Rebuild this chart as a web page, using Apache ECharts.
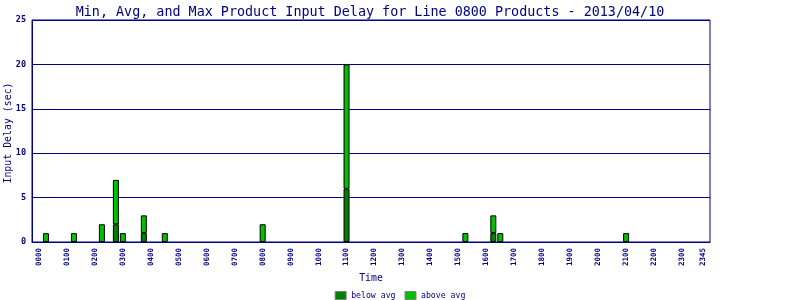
<!DOCTYPE html>
<html>
<head>
<meta charset="utf-8">
<script src="https://cdn.jsdelivr.net/npm/echarts@6/dist/echarts.min.js"></script>
<style>html,body{margin:0;padding:0;background:#fff;}#c{width:800px;height:300px;}</style>
</head>
<body>
<div id="c"></div>
<script>
// Time slots (15-minute bins) that have data
var barTimes = ['0015','0115','0215','0245','0300','0345','0430','0800','1100','1515','1615','1630','2100'];
// Portion of each bar below the average (sec)
var belowAvg = ['-','-','-',2,'-',1,'-','-',6,'-',1,'-','-'];
// Portion of each bar above the average (sec), stacked on top
var aboveAvg = [1,1,2,5,1,2,1,2,14,1,2,1,1];
// X tick labels
var tickLabels = ['0000','0100','0200','0300','0400','0500','0600','0700','0800','0900','1000','1100',
                  '1200','1300','1400','1500','1600','1700','1800','1900','2000','2100','2200','2300','2345'];
var yTicks = [0,5,10,15,20,25];

function toMin(t){ return parseInt(t.slice(0,2),10)*60 + parseInt(t.slice(2),10); }
function fmt(m){ var h=Math.floor(m/60), mm=m%60; return (h<10?'0':'')+h+(mm<10?'0':'')+mm; }

var NAVY = '#000080';
var FONT = 'DejaVu Sans Mono';

var chart = echarts.init(document.getElementById('c'), null, {renderer:'canvas'});
chart.setOption({
  animation: false,
  backgroundColor: '#ffffff',
  title: {
    text: 'Min, Avg, and Max Product Input Delay for Line 0800 Products - 2013/04/10',
    left: 365, top: 1, textAlign: 'center',
    textStyle: {color: NAVY, fontFamily: FONT, fontSize: 13.4, fontWeight: 'normal'}
  },
  legend: {
    left: 'center', top: 291, padding: 0,
    itemWidth: 11, itemHeight: 8, itemGap: 9,
    icon: 'rect',
    itemStyle: {borderColor: '#808080', borderWidth: 1},
    textStyle: {color: NAVY, fontFamily: FONT, fontSize: 8.2},
    data: ['below avg', 'above avg']
  },
  grid: {
    left: 32, right: 90, top: 20, bottom: 58,
    containLabel: false, outerBoundsMode: 'none',
    show: true, borderColor: NAVY, borderWidth: 1, backgroundColor: 'transparent'
  },
  xAxis: {
    type: 'value', min: -15, max: 1440,
    name: 'Time', nameLocation: 'middle', nameGap: 31, nameMoveOverlap: false,
    nameTextStyle: {color: NAVY, fontFamily: FONT, fontSize: 9.8},
    axisLine: {show: true, onZero: false, lineStyle: {color: NAVY, width: 1}},
    axisTick: {show: false},
    splitLine: {show: false},
    axisLabel: {
      customValues: tickLabels.map(toMin),
      rotate: 90, margin: 6,
      color: NAVY, fontFamily: FONT, fontSize: 7.5, fontWeight: 'bold',
      formatter: function(v){ return fmt(v); }
    }
  },
  yAxis: {
    type: 'value', min: yTicks[0], max: yTicks[yTicks.length-1], interval: 5,
    name: 'Input Delay (sec)', nameLocation: 'middle', nameGap: 19, nameMoveOverlap: false,
    nameTextStyle: {color: NAVY, fontFamily: FONT, fontSize: 9.9, padding: [0, 4, 0, 0]},
    axisLine: {show: true, onZero: false, lineStyle: {color: NAVY, width: 1}},
    axisTick: {show: false},
    splitLine: {show: true, lineStyle: {color: NAVY, width: 1}},
    axisLabel: {color: NAVY, fontFamily: FONT, fontSize: 8.5, fontWeight: 'bold', margin: 6}
  },
  series: [
    {
      name: 'below avg', type: 'bar', stack: 'd', barWidth: 6,
      encode: {x: 1, y: 0},
      itemStyle: {color: '#008000', borderColor: '#000000', borderWidth: 1},
      data: barTimes.map(function(t,i){ return [belowAvg[i], toMin(t)]; })
    },
    {
      name: 'above avg', type: 'bar', stack: 'd', barWidth: 6,
      encode: {x: 1, y: 0},
      itemStyle: {color: '#00C000', borderColor: '#000000', borderWidth: 1},
      data: barTimes.map(function(t,i){ return [aboveAvg[i], toMin(t)]; })
    }
  ]
});
</script>
</body>
</html>
